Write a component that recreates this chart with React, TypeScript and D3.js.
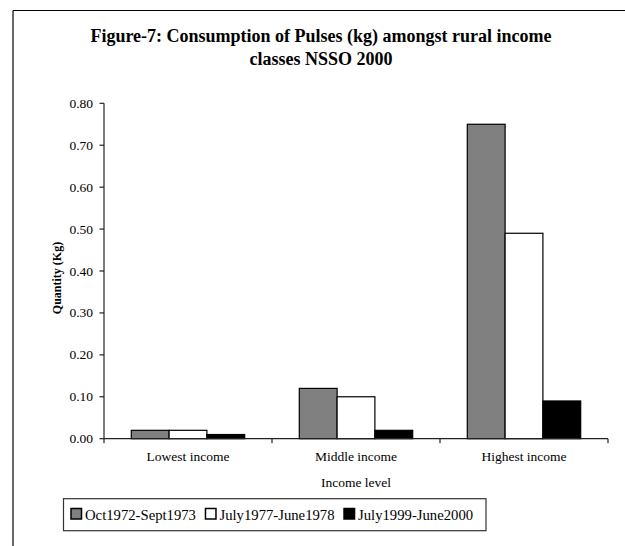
import React, { useEffect, useRef } from "react";
import * as d3 from "d3";

// Income classes and consumption per period (kg)
const categories = ["Lowest income", "Middle income", "Highest income"];
const periods = ["Oct1972-Sept1973", "July1977-June1978", "July1999-June2000"];
const oct1972 = [0.02, 0.12, 0.75];
const july1977 = [0.02, 0.1, 0.49];
const july1999 = [0.01, 0.02, 0.09];
const seriesValues = [oct1972, july1977, july1999];
const yTicks = [0, 0.1, 0.2, 0.3, 0.4, 0.5, 0.6, 0.7, 0.8];
const fills = ["#808080", "#ffffff", "#000000"];

const W = 625;
const H = 546;
const FONT = "'Liberation Serif', 'Times New Roman', serif";

export default function App() {
  const ref = useRef<SVGSVGElement | null>(null);

  useEffect(() => {
    const svg = d3.select(ref.current);
    svg.selectAll("*").remove();

    const left = 104;
    const right = 608;
    const bottom = 438.7;
    const top = 103.3;

    // outer frame (top and left edges)
    svg.append("line").attr("x1", 13).attr("x2", W).attr("y1", 10.5).attr("y2", 10.5)
      .attr("stroke", "#000").attr("stroke-width", 1.2);
    svg.append("line").attr("x1", 13).attr("x2", 13).attr("y1", 10.5).attr("y2", H)
      .attr("stroke", "#000").attr("stroke-width", 1.2);

    // title
    const title = svg.append("text").attr("text-anchor", "middle")
      .attr("font-family", FONT).attr("font-weight", "bold").attr("font-size", 18)
      .attr("fill", "#000");
    title.append("tspan").attr("x", 321).attr("y", 41.5)
      .text("Figure-7: Consumption of Pulses (kg) amongst rural income");
    title.append("tspan").attr("x", 321).attr("y", 65).text("classes NSSO 2000");

    const y = d3.scaleLinear().domain([0, 0.8]).range([bottom, top]);
    const x0 = d3.scaleBand<string>().domain(categories).range([left, right])
      .paddingInner(0.325).paddingOuter(0.1625);
    const x1 = d3.scaleBand<number>().domain([0, 1, 2]).range([0, x0.bandwidth()]);

    // bars
    categories.forEach((c, ci) => {
      seriesValues.forEach((vals, si) => {
        const v = vals[ci];
        svg.append("rect")
          .attr("x", (x0(c) as number) + (x1(si) as number))
          .attr("y", y(v))
          .attr("width", x1.bandwidth())
          .attr("height", bottom - y(v))
          .attr("fill", fills[si])
          .attr("stroke", "#000")
          .attr("stroke-width", 1.2);
      });
    });

    // y axis
    const axisColor = "#222";
    svg.append("line").attr("x1", left).attr("x2", left).attr("y1", top).attr("y2", bottom)
      .attr("stroke", axisColor).attr("stroke-width", 1.2);
    yTicks.forEach((t) => {
      svg.append("line").attr("x1", left - 4.5).attr("x2", left).attr("y1", y(t)).attr("y2", y(t))
        .attr("stroke", axisColor).attr("stroke-width", 1.2);
      svg.append("text").attr("x", 93).attr("y", y(t) + 4.5)
        .attr("text-anchor", "end").attr("font-family", FONT).attr("font-size", 13.5)
        .attr("fill", "#000").text(d3.format(".2f")(t));
    });

    // x axis
    svg.append("line").attr("x1", left).attr("x2", right).attr("y1", bottom).attr("y2", bottom)
      .attr("stroke", axisColor).attr("stroke-width", 1.2);
    const step = x0.step();
    const boundaries = categories.map((c) => (x0(c) as number) - (step - x0.bandwidth()) / 2);
    boundaries.push(right);
    boundaries.forEach((b) => {
      svg.append("line").attr("x1", b).attr("x2", b).attr("y1", bottom).attr("y2", bottom + 4.5)
        .attr("stroke", axisColor).attr("stroke-width", 1.2);
    });
    categories.forEach((c) => {
      svg.append("text").attr("x", (x0(c) as number) + x0.bandwidth() / 2).attr("y", 461)
        .attr("text-anchor", "middle").attr("font-family", FONT).attr("font-size", 13.5)
        .attr("fill", "#000").text(c);
    });

    // axis titles
    svg.append("text").attr("x", 356).attr("y", 487).attr("text-anchor", "middle")
      .attr("font-family", FONT).attr("font-size", 13.5).attr("fill", "#000").text("Income level");
    svg.append("text").attr("transform", "translate(60.5,278) rotate(-90)")
      .attr("text-anchor", "middle").attr("font-family", FONT).attr("font-weight", "bold")
      .attr("font-size", 12).attr("fill", "#000").text("Quantity (Kg)");

    // legend
    const lg = svg.append("g");
    lg.append("rect").attr("x", 63.5).attr("y", 498.7).attr("width", 422.5).attr("height", 32)
      .attr("fill", "#fff").attr("stroke", "#333").attr("stroke-width", 1.2);
    let cx = 71;
    periods.forEach((p, i) => {
      lg.append("rect").attr("x", cx).attr("y", 508.5).attr("width", 10.5).attr("height", 10.5)
        .attr("fill", fills[i]).attr("stroke", "#000").attr("stroke-width", 1.5);
      const t = lg.append("text").attr("x", cx + 14).attr("y", 519.5)
        .attr("font-family", FONT).attr("font-size", 14.7).attr("fill", "#000").text(p);
      const w = (t.node() as SVGTextElement).getComputedTextLength();
      cx = cx + 14 + w + 9.5;
    });
  }, []);

  return (
    <svg
      ref={ref}
      width={W}
      height={H}
      style={{ position: "absolute", left: 0, top: 0, background: "#fff" }}
    />
  );
}
